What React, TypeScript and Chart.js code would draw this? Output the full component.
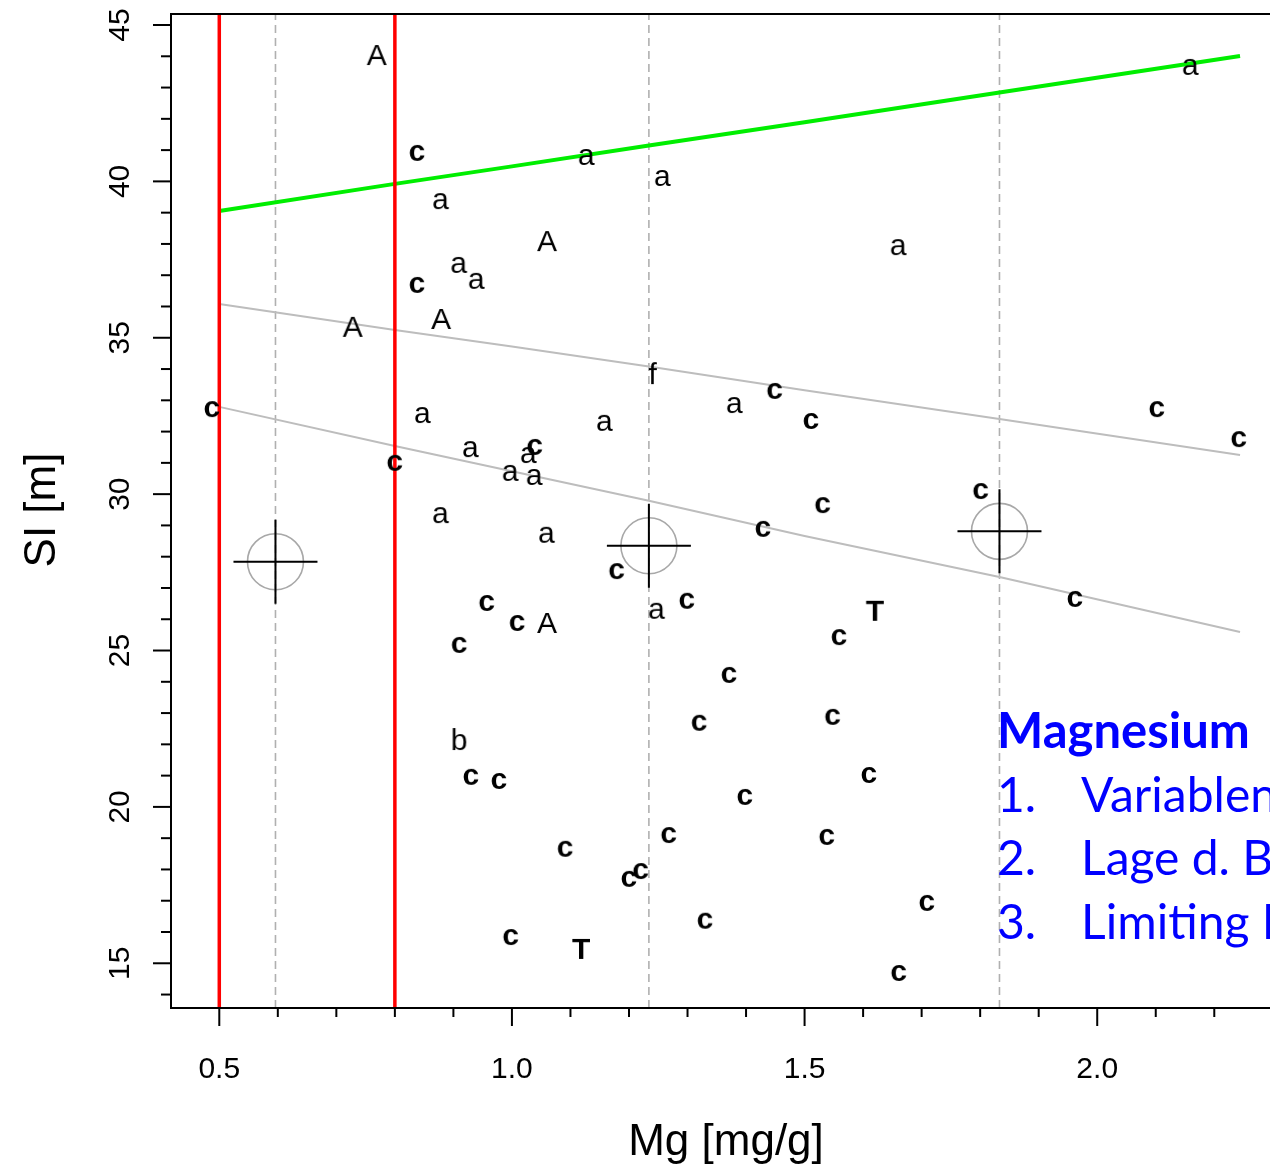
import React, { useEffect, useRef } from 'react';
import { Chart, registerables } from 'chart.js';

Chart.register(...registerables);

const W = 1270;
const H = 1167;

// ---- data ----
const aX = [1.128, 1.258, 0.879, 1.661, 0.910, 0.940, 1.381, 0.848, 1.159, 0.930, 1.029, 0.998, 1.039, 0.879, 1.060, 1.248, 2.160];
const aY = [40.78, 40.11, 39.37, 37.90, 37.33, 36.82, 32.85, 32.53, 32.28, 31.44, 31.25, 30.68, 30.55, 29.33, 28.70, 26.27, 43.66];

const bigAX = [0.769, 1.060, 0.728, 0.879, 1.060];
const bigAY = [44.04, 38.09, 35.35, 35.60, 25.88];

const cX = [0.838, 0.838, 1.449, 0.4875, 2.102, 1.511, 2.242, 1.039, 0.800, 1.801, 1.531, 1.429, 1.179, 1.962, 0.957, 1.299, 1.009, 1.559, 0.910, 1.371, 1.320, 1.548, 0.930, 0.978, 1.610, 1.398, 1.268, 1.538, 1.091, 1.220, 1.200, 1.709, 1.330, 0.998, 1.661];
const cY = [40.91, 36.69, 33.30, 32.72, 32.72, 32.34, 31.76, 31.51, 31.00, 30.10, 29.65, 28.89, 27.54, 26.65, 26.52, 26.59, 25.88, 25.43, 25.18, 24.22, 22.69, 22.88, 20.96, 20.83, 21.02, 20.32, 19.10, 19.04, 18.66, 17.95, 17.70, 16.93, 16.36, 15.84, 14.69];

const tX = [1.620, 1.118];
const tY = [26.27, 15.46];

const bX = [0.910];
const bY = [22.17];

const fX = [1.241];
const fY = [33.87];

// fitted lines
const lineX = [0.5, 0.8, 1.0, 1.234, 1.5, 1.833, 2.244];
const greenY = [39.05, 39.92, 40.48, 41.15, 41.89, 42.84, 44.01];
const upperY = [36.08, 35.25, 34.72, 34.08, 33.32, 32.40, 31.25];
const lowerY = [32.79, 31.54, 30.73, 29.79, 28.66, 27.35, 25.59];

// vertical reference lines
const redX = [0.5, 0.8];
const dashX = [0.596, 1.234, 1.833];

// crosshair centres
const crossX = [0.596, 1.234, 1.833];
const crossY = [27.84, 28.35, 28.81];

// axes
const X_MIN = 0.4175;
const X_MAX = 2.2952;
const Y_MIN = 13.57;
const Y_MAX = 45.352;
const xTickValues = [0.5, 1.0, 1.5, 2.0];
const xTickLabels = ['0.5', '1.0', '1.5', '2.0'];
const yTickValues = [15, 20, 25, 30, 35, 40, 45];
const yTickLabels = ['15', '20', '25', '30', '35', '40', '45'];
const X_TITLE = 'Mg [mg/g]';
const Y_TITLE = 'SI [m]';

const noteTitle = 'Magnesium';
const noteNums = ['1.', '2.', '3.'];
const noteItems = ['Variablen', 'Lage d. B', 'Limiting F'];

const FONT = '"Liberation Sans", Arial, Helvetica, sans-serif';

function glyph(ch: string, bold: boolean): HTMLCanvasElement {
  const size = 48;
  const c = document.createElement('canvas');
  c.width = size;
  c.height = size;
  const g = c.getContext('2d')!;
  g.font = `${bold ? 'bold ' : ''}30px ${FONT}`;
  g.fillStyle = '#000';
  const m = g.measureText(ch);
  const inkW = m.actualBoundingBoxLeft + m.actualBoundingBoxRight;
  const inkH = m.actualBoundingBoxAscent + m.actualBoundingBoxDescent;
  const x = size / 2 - inkW / 2 + m.actualBoundingBoxLeft;
  const y = size / 2 - inkH / 2 + m.actualBoundingBoxAscent;
  g.fillText(ch, x, y);
  return c;
}

const pts = (xs: number[], ys: number[]) => xs.map((x, i) => ({ x, y: ys[i] }));

const isMult = (v: number, step: number) => Math.abs(v / step - Math.round(v / step)) < 1e-6;

const rAxesPlugin = {
  id: 'rAxes',
  afterDraw(chart: any) {
    const { ctx, chartArea: a } = chart;
    const xs = chart.scales.x;
    const ys = chart.scales.y;
    ctx.save();
    ctx.strokeStyle = '#000';
    ctx.lineWidth = 2;
    // box
    ctx.beginPath();
    ctx.moveTo(a.right + 5, a.top);
    ctx.lineTo(a.left, a.top);
    ctx.lineTo(a.left, a.bottom);
    ctx.lineTo(a.right + 5, a.bottom);
    ctx.stroke();

    // y ticks (minor every 1, major every 5)
    for (let v = Math.ceil(Y_MIN); v <= Math.floor(Y_MAX); v++) {
      const py = ys.getPixelForValue(v);
      const major = isMult(v, 5);
      ctx.beginPath();
      ctx.moveTo(a.left, py);
      ctx.lineTo(a.left - (major ? 18 : 10), py);
      ctx.stroke();
    }
    // x ticks (minor every 0.1, major every 0.5)
    for (let k = Math.ceil(X_MIN * 10); k <= Math.floor(X_MAX * 10); k++) {
      const v = k / 10;
      const px = xs.getPixelForValue(v);
      const major = isMult(v, 0.5);
      ctx.beginPath();
      ctx.moveTo(px, a.bottom);
      ctx.lineTo(px, a.bottom + (major ? 18 : 9));
      ctx.stroke();
    }

    ctx.fillStyle = '#000';
    ctx.font = `30px ${FONT}`;
    ctx.textAlign = 'center';
    ctx.textBaseline = 'alphabetic';
    xTickValues.forEach((v, i) => {
      ctx.fillText(xTickLabels[i], xs.getPixelForValue(v), 1078);
    });
    yTickValues.forEach((v, i) => {
      ctx.save();
      ctx.translate(117.5, ys.getPixelForValue(v));
      ctx.rotate(-Math.PI / 2);
      ctx.fillText(yTickLabels[i], 0, 11);
      ctx.restore();
    });

    // axis titles
    ctx.font = `44px ${FONT}`;
    ctx.fillText(X_TITLE, 726, 1155);
    ctx.save();
    ctx.translate(55, 510);
    ctx.rotate(-Math.PI / 2);
    ctx.fillText(Y_TITLE, 0, 0);
    ctx.restore();

    // note text
    ctx.fillStyle = '#0000ff';
    ctx.textAlign = 'left';
    ctx.font = `bold 49px Lato, "Open Sans", sans-serif`;
    ctx.fillText(noteTitle, 997, 748);
    ctx.font = `48px Lato, "Open Sans", sans-serif`;
    const base = [812, 875, 939];
    noteNums.forEach((n, i) => {
      ctx.fillText(n, 997, base[i]);
      ctx.fillText(noteItems[i], 1081, base[i]);
    });
    ctx.restore();
  },
};

export default function App() {
  const ref = useRef<HTMLCanvasElement>(null);

  useEffect(() => {
    if (!ref.current) return;
    const gA = glyph('a', false);
    const gBigA = glyph('A', false);
    const gC = glyph('c', true);
    const gT = glyph('T', true);
    const gB = glyph('b', false);
    const gF = glyph('f', false);

    const letterDs = (data: any[], style: HTMLCanvasElement) => ({
      type: 'scatter' as const,
      data,
      pointStyle: style,
      pointRadius: 10,
      showLine: false,
    });

    const lineDs = (data: any[], color: string, width: number, dash: number[] = []) => ({
      type: 'line' as const,
      data,
      borderColor: color,
      borderWidth: width,
      borderDash: dash,
      pointRadius: 0,
      showLine: true,
      fill: false,
      tension: 0,
    });

    const chart = new Chart(ref.current, {
      type: 'scatter',
      data: {
        datasets: [
          letterDs(pts(cX, cY), gC),
          letterDs(pts(aX, aY), gA),
          letterDs(pts(bigAX, bigAY), gBigA),
          letterDs(pts(tX, tY), gT),
          letterDs(pts(bX, bY), gB),
          letterDs(pts(fX, fY), gF),
          {
            type: 'scatter',
            data: pts(crossX, crossY),
            pointStyle: 'cross',
            pointRadius: 42,
            borderColor: '#000',
            borderWidth: 2,
          },
          {
            type: 'scatter',
            data: pts(crossX, crossY),
            pointStyle: 'circle',
            pointRadius: 28,
            borderColor: '#a8a8a8',
            backgroundColor: 'rgba(0,0,0,0)',
            borderWidth: 1.6,
          },
          ...redX.map((x) => lineDs([{ x, y: Y_MIN }, { x, y: Y_MAX }], '#ff0000', 3.5)),
          lineDs(pts(lineX, greenY), '#00ee00', 4),
          lineDs(pts(lineX, upperY), '#bdbdbd', 2),
          lineDs(pts(lineX, lowerY), '#bdbdbd', 2),
          ...dashX.map((x) => lineDs([{ x, y: Y_MIN }, { x, y: Y_MAX }], '#b0b0b0', 1.6, [8, 5])),
        ] as any,
      },
      options: {
        responsive: false,
        animation: false,
        devicePixelRatio: 1,
        layout: { autoPadding: false, padding: { left: 171, top: 14, bottom: H - 1008, right: 0 } },
        plugins: { legend: { display: false }, tooltip: { enabled: false }, title: { display: false } },
        events: [],
        scales: {
          x: { type: 'linear', min: X_MIN, max: X_MAX, display: false },
          y: { type: 'linear', min: Y_MIN, max: Y_MAX, display: false },
        },
      },
      plugins: [rAxesPlugin],
    });
    return () => chart.destroy();
  }, []);

  return (
    <div style={{ position: 'absolute', left: 0, top: 0, width: W, height: H, background: '#fff' }}>
      <canvas ref={ref} width={W} height={H} style={{ display: 'block' }} />
    </div>
  );
}
